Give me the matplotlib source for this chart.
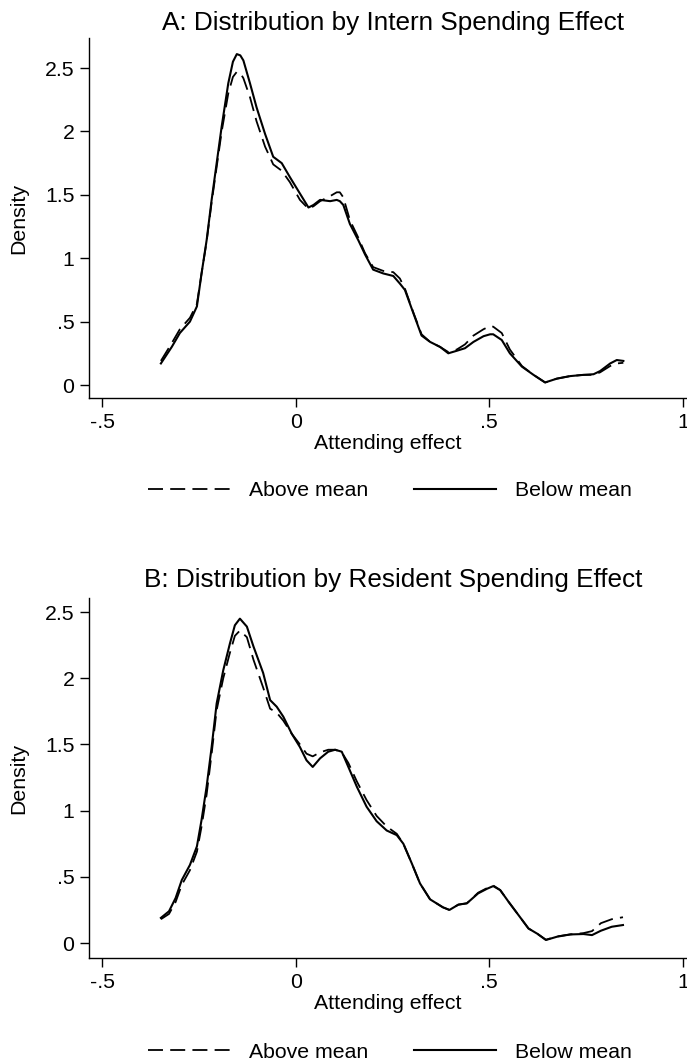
import matplotlib
matplotlib.use("Agg")
import matplotlib.pyplot as plt

plt.rcParams["font.family"] = ["Liberation Sans", "DejaVu Sans"]

# Panel A: intern spending effect
xa = [-0.348, -0.320, -0.299, -0.273, -0.255, -0.243, -0.230, -0.217, -0.204, -0.191,
      -0.174, -0.162, -0.152, -0.143, -0.135, -0.118, -0.101, -0.079, -0.058, -0.036,
      -0.015, 0.011, 0.033, 0.046, 0.063, 0.089, 0.106, 0.114, 0.123, 0.140,
      0.162, 0.179, 0.200, 0.226, 0.252, 0.269, 0.282, 0.304, 0.325, 0.347,
      0.373, 0.394, 0.416, 0.437, 0.459, 0.485, 0.502, 0.510, 0.532, 0.553,
      0.584, 0.614, 0.644, 0.674, 0.708, 0.743, 0.769, 0.786, 0.812, 0.829, 0.846]
a_below = [0.17, 0.30, 0.41, 0.50, 0.62, 0.88, 1.14, 1.46, 1.75, 2.04,
           2.38, 2.55, 2.61, 2.60, 2.56, 2.38, 2.19, 1.98, 1.80, 1.75,
           1.64, 1.51, 1.40, 1.42, 1.46, 1.45, 1.46, 1.45, 1.42, 1.27,
           1.14, 1.03, 0.91, 0.88, 0.86, 0.80, 0.75, 0.565, 0.39, 0.34,
           0.30, 0.25, 0.27, 0.29, 0.34, 0.385, 0.40, 0.40, 0.355, 0.25,
           0.145, 0.08, 0.02, 0.05, 0.07, 0.08, 0.085, 0.11, 0.17, 0.197, 0.19]
a_above = [0.19, 0.33, 0.44, 0.53, 0.64, 0.88, 1.13, 1.44, 1.72, 2.00,
           2.30, 2.43, 2.47, 2.46, 2.42, 2.27, 2.08, 1.88, 1.74, 1.69,
           1.60, 1.46, 1.39, 1.41, 1.45, 1.49, 1.52, 1.52, 1.48, 1.30,
           1.16, 1.04, 0.93, 0.90, 0.89, 0.84, 0.76, 0.57, 0.40, 0.34,
           0.30, 0.26, 0.28, 0.32, 0.39, 0.44, 0.465, 0.46, 0.41, 0.28,
           0.15, 0.08, 0.02, 0.05, 0.07, 0.08, 0.08, 0.10, 0.15, 0.17, 0.175]

# Panel B: resident spending effect
xb = [-0.348, -0.327, -0.310, -0.294, -0.273, -0.255, -0.243, -0.230, -0.217, -0.204,
      -0.187, -0.170, -0.157, -0.144, -0.126, -0.109, -0.084, -0.066, -0.049, -0.032,
      -0.010, 0.011, 0.028, 0.044, 0.063, 0.084, 0.102, 0.119, 0.136, 0.158,
      0.183, 0.209, 0.235, 0.261, 0.278, 0.300, 0.321, 0.347, 0.380, 0.397,
      0.420, 0.442, 0.471, 0.494, 0.510, 0.528, 0.550, 0.573, 0.601, 0.624,
      0.646, 0.675, 0.709, 0.743, 0.765, 0.788, 0.816, 0.845]
b_below = [0.19, 0.24, 0.34, 0.476, 0.59, 0.73, 0.93, 1.18, 1.48, 1.81,
           2.06, 2.26, 2.40, 2.45, 2.39, 2.24, 2.04, 1.835, 1.785, 1.71,
           1.58, 1.48, 1.38, 1.33, 1.395, 1.445, 1.46, 1.445, 1.33, 1.18,
           1.03, 0.92, 0.85, 0.815, 0.75, 0.60, 0.45, 0.33, 0.27, 0.25,
           0.29, 0.30, 0.375, 0.41, 0.43, 0.40, 0.31, 0.22, 0.11, 0.07,
           0.023, 0.048, 0.065, 0.068, 0.06, 0.093, 0.123, 0.136]
b_above = [0.18, 0.22, 0.31, 0.44, 0.55, 0.69, 0.88, 1.12, 1.43, 1.76,
           2.00, 2.19, 2.32, 2.36, 2.31, 2.14, 1.93, 1.77, 1.74, 1.68,
           1.58, 1.50, 1.43, 1.41, 1.44, 1.46, 1.46, 1.44, 1.36, 1.22,
           1.08, 0.96, 0.88, 0.825, 0.75, 0.60, 0.45, 0.33, 0.27, 0.25,
           0.29, 0.30, 0.38, 0.415, 0.435, 0.40, 0.31, 0.22, 0.11, 0.07,
           0.025, 0.05, 0.065, 0.075, 0.09, 0.15, 0.18, 0.195]

titles = ["A: Distribution by Intern Spending Effect",
          "B: Distribution by Resident Spending Effect"]
xticks = [-0.5, 0, 0.5, 1]
xtick_labels = ["-.5", "0", ".5", "1"]
yticks = [0, 0.5, 1, 1.5, 2, 2.5]
ytick_labels = ["0", ".5", "1", "1.5", "2", "2.5"]

W, H = 687, 1063
fig = plt.figure(figsize=(W / 100, H / 100), dpi=100)

panels = [
    # data, axes pixel box (left, top, right, bottom), ylim, title baseline, legend y
    (xa, a_above, a_below, (89, 38, 687, 398), (-0.1025, 2.737), 30, 491),
    (xb, b_above, b_below, (89, 598, 687, 958), (-0.113, 2.606), 587, 1052),
]

LABEL_FS = 15.3
for i, (x, above, below, box, ylim, title_y, leg_y) in enumerate(panels):
    l, t, r, b = box
    ax = fig.add_axes([l / W, 1 - b / H, (r - l) / W, (b - t) / H])
    ax.plot(x, above, color="black", lw=1.3, linestyle=(0, (8.3, 4.0)),
            label="Above mean")
    ax.plot(x, below, color="black", lw=1.5, label="Below mean")

    ax.set_xlim(-0.5336, 1.0103)
    ax.set_ylim(*ylim)
    ax.set_xticks(xticks)
    ax.set_xticklabels(xtick_labels)
    ax.set_yticks(yticks)
    ax.set_yticklabels(ytick_labels)
    ax.tick_params(labelsize=LABEL_FS, length=6.5, width=1.0, pad=4)
    for side in ["top", "right"]:
        ax.spines[side].set_visible(False)
    for side in ["left", "bottom"]:
        ax.spines[side].set_linewidth(1.0)
    ax.set_xlabel("Attending effect", fontsize=LABEL_FS, labelpad=2)
    ax.set_ylabel("Density", fontsize=LABEL_FS, labelpad=12)

    fig.text(393 / W, 1 - title_y / H, titles[i], fontsize=18.8,
             ha="center", va="baseline")

    ax.legend(loc="center", bbox_to_anchor=(390 / W, 1 - leg_y / H),
              bbox_transform=fig.transFigure, ncol=2, frameon=False,
              fontsize=LABEL_FS, handlelength=3.86, handletextpad=0.9,
              columnspacing=2.16, borderpad=0)

fig.savefig("out.png", dpi=100)
